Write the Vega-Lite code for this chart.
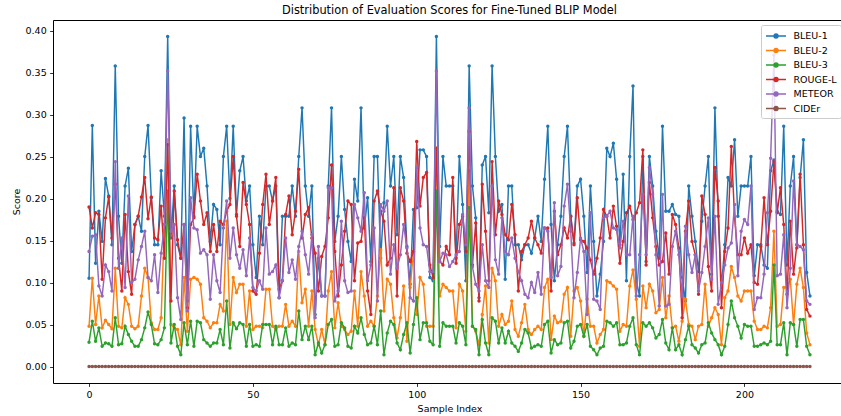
{
"$schema":"https://vega.github.io/schema/vega-lite/v6.json",
"width":793,"height":363,"autosize":"none",
"padding":{"left":53,"top":20,"right":0,"bottom":33},
"title":{"text":"Distribution of Evaluation Scores for Fine-Tuned BLIP Model","fontSize":11.4,"fontWeight":"normal","offset":4,"color":"#000000"},
"data":{"values":[
{"i":0,"BLEU-1":0.105,"BLEU-2":0.048,"BLEU-3":0.029,"ROUGE-L":0.190,"METEOR":0.137,"CIDEr":0},
{"i":1,"BLEU-1":0.287,"BLEU-2":0.105,"BLEU-3":0.054,"ROUGE-L":0.165,"METEOR":0.155,"CIDEr":0},
{"i":2,"BLEU-1":0.123,"BLEU-2":0.050,"BLEU-3":0.030,"ROUGE-L":0.183,"METEOR":0.157,"CIDEr":0},
{"i":3,"BLEU-1":0.185,"BLEU-2":0.084,"BLEU-3":0.046,"ROUGE-L":0.181,"METEOR":0.096,"CIDEr":0},
{"i":4,"BLEU-1":0.149,"BLEU-2":0.046,"BLEU-3":0.024,"ROUGE-L":0.104,"METEOR":0.084,"CIDEr":0},
{"i":5,"BLEU-1":0.224,"BLEU-2":0.055,"BLEU-3":0.028,"ROUGE-L":0.177,"METEOR":0.121,"CIDEr":0},
{"i":6,"BLEU-1":0.203,"BLEU-2":0.050,"BLEU-3":0.027,"ROUGE-L":0.202,"METEOR":0.113,"CIDEr":0},
{"i":7,"BLEU-1":0.145,"BLEU-2":0.045,"BLEU-3":0.024,"ROUGE-L":0.153,"METEOR":0.090,"CIDEr":0},
{"i":8,"BLEU-1":0.358,"BLEU-2":0.117,"BLEU-3":0.058,"ROUGE-L":0.217,"METEOR":0.244,"CIDEr":0},
{"i":9,"BLEU-1":0.179,"BLEU-2":0.048,"BLEU-3":0.026,"ROUGE-L":0.129,"METEOR":0.117,"CIDEr":0},
{"i":10,"BLEU-1":0.123,"BLEU-2":0.046,"BLEU-3":0.027,"ROUGE-L":0.090,"METEOR":0.153,"CIDEr":0},
{"i":11,"BLEU-1":0.215,"BLEU-2":0.082,"BLEU-3":0.048,"ROUGE-L":0.181,"METEOR":0.094,"CIDEr":0},
{"i":12,"BLEU-1":0.236,"BLEU-2":0.074,"BLEU-3":0.038,"ROUGE-L":0.113,"METEOR":0.203,"CIDEr":0},
{"i":13,"BLEU-1":0.137,"BLEU-2":0.048,"BLEU-3":0.030,"ROUGE-L":0.086,"METEOR":0.100,"CIDEr":0},
{"i":14,"BLEU-1":0.169,"BLEU-2":0.045,"BLEU-3":0.024,"ROUGE-L":0.169,"METEOR":0.104,"CIDEr":0},
{"i":15,"BLEU-1":0.179,"BLEU-2":0.048,"BLEU-3":0.024,"ROUGE-L":0.179,"METEOR":0.127,"CIDEr":0},
{"i":16,"BLEU-1":0.161,"BLEU-2":0.084,"BLEU-3":0.032,"ROUGE-L":0.202,"METEOR":0.143,"CIDEr":0},
{"i":17,"BLEU-1":0.250,"BLEU-2":0.117,"BLEU-3":0.046,"ROUGE-L":0.225,"METEOR":0.161,"CIDEr":0},
{"i":18,"BLEU-1":0.287,"BLEU-2":0.106,"BLEU-3":0.065,"ROUGE-L":0.176,"METEOR":0.106,"CIDEr":0},
{"i":19,"BLEU-1":0.201,"BLEU-2":0.052,"BLEU-3":0.050,"ROUGE-L":0.202,"METEOR":0.102,"CIDEr":0},
{"i":20,"BLEU-1":0.145,"BLEU-2":0.044,"BLEU-3":0.027,"ROUGE-L":0.153,"METEOR":0.133,"CIDEr":0},
{"i":21,"BLEU-1":0.145,"BLEU-2":0.044,"BLEU-3":0.026,"ROUGE-L":0.151,"METEOR":0.088,"CIDEr":0},
{"i":22,"BLEU-1":0.233,"BLEU-2":0.058,"BLEU-3":0.032,"ROUGE-L":0.191,"METEOR":0.135,"CIDEr":0},
{"i":23,"BLEU-1":0.179,"BLEU-2":0.169,"BLEU-3":0.046,"ROUGE-L":0.129,"METEOR":0.169,"CIDEr":0},
{"i":24,"BLEU-1":0.393,"BLEU-2":0.270,"BLEU-3":0.209,"ROUGE-L":0.264,"METEOR":0.352,"CIDEr":0},
{"i":25,"BLEU-1":0.153,"BLEU-2":0.050,"BLEU-3":0.028,"ROUGE-L":0.078,"METEOR":0.161,"CIDEr":0},
{"i":26,"BLEU-1":0.215,"BLEU-2":0.046,"BLEU-3":0.050,"ROUGE-L":0.209,"METEOR":0.169,"CIDEr":0},
{"i":27,"BLEU-1":0.145,"BLEU-2":0.044,"BLEU-3":0.024,"ROUGE-L":0.151,"METEOR":0.082,"CIDEr":0},
{"i":28,"BLEU-1":0.129,"BLEU-2":0.026,"BLEU-3":0.014,"ROUGE-L":0.129,"METEOR":0.056,"CIDEr":0},
{"i":29,"BLEU-1":0.296,"BLEU-2":0.106,"BLEU-3":0.052,"ROUGE-L":0.169,"METEOR":0.169,"CIDEr":0},
{"i":30,"BLEU-1":0.078,"BLEU-2":0.042,"BLEU-3":0.026,"ROUGE-L":0.070,"METEOR":0.066,"CIDEr":0},
{"i":31,"BLEU-1":0.286,"BLEU-2":0.104,"BLEU-3":0.054,"ROUGE-L":0.169,"METEOR":0.201,"CIDEr":0},
{"i":32,"BLEU-1":0.179,"BLEU-2":0.106,"BLEU-3":0.024,"ROUGE-L":0.177,"METEOR":0.165,"CIDEr":0},
{"i":33,"BLEU-1":0.286,"BLEU-2":0.104,"BLEU-3":0.054,"ROUGE-L":0.229,"METEOR":0.163,"CIDEr":0},
{"i":34,"BLEU-1":0.250,"BLEU-2":0.098,"BLEU-3":0.052,"ROUGE-L":0.197,"METEOR":0.135,"CIDEr":0},
{"i":35,"BLEU-1":0.260,"BLEU-2":0.058,"BLEU-3":0.032,"ROUGE-L":0.169,"METEOR":0.139,"CIDEr":0},
{"i":36,"BLEU-1":0.215,"BLEU-2":0.054,"BLEU-3":0.028,"ROUGE-L":0.183,"METEOR":0.133,"CIDEr":0},
{"i":37,"BLEU-1":0.149,"BLEU-2":0.046,"BLEU-3":0.024,"ROUGE-L":0.137,"METEOR":0.080,"CIDEr":0},
{"i":38,"BLEU-1":0.193,"BLEU-2":0.052,"BLEU-3":0.028,"ROUGE-L":0.169,"METEOR":0.133,"CIDEr":0},
{"i":39,"BLEU-1":0.187,"BLEU-2":0.052,"BLEU-3":0.028,"ROUGE-L":0.137,"METEOR":0.102,"CIDEr":0},
{"i":40,"BLEU-1":0.145,"BLEU-2":0.074,"BLEU-3":0.044,"ROUGE-L":0.173,"METEOR":0.088,"CIDEr":0},
{"i":41,"BLEU-1":0.250,"BLEU-2":0.066,"BLEU-3":0.026,"ROUGE-L":0.169,"METEOR":0.165,"CIDEr":0},
{"i":42,"BLEU-1":0.286,"BLEU-2":0.173,"BLEU-3":0.078,"ROUGE-L":0.185,"METEOR":0.197,"CIDEr":0},
{"i":43,"BLEU-1":0.200,"BLEU-2":0.050,"BLEU-3":0.022,"ROUGE-L":0.193,"METEOR":0.129,"CIDEr":0},
{"i":44,"BLEU-1":0.286,"BLEU-2":0.106,"BLEU-3":0.052,"ROUGE-L":0.250,"METEOR":0.165,"CIDEr":0},
{"i":45,"BLEU-1":0.181,"BLEU-2":0.088,"BLEU-3":0.045,"ROUGE-L":0.179,"METEOR":0.133,"CIDEr":0},
{"i":46,"BLEU-1":0.233,"BLEU-2":0.098,"BLEU-3":0.052,"ROUGE-L":0.143,"METEOR":0.117,"CIDEr":0},
{"i":47,"BLEU-1":0.250,"BLEU-2":0.098,"BLEU-3":0.050,"ROUGE-L":0.219,"METEOR":0.139,"CIDEr":0},
{"i":48,"BLEU-1":0.197,"BLEU-2":0.048,"BLEU-3":0.024,"ROUGE-L":0.193,"METEOR":0.108,"CIDEr":0},
{"i":49,"BLEU-1":0.215,"BLEU-2":0.090,"BLEU-3":0.050,"ROUGE-L":0.169,"METEOR":0.153,"CIDEr":0},
{"i":50,"BLEU-1":0.145,"BLEU-2":0.044,"BLEU-3":0.024,"ROUGE-L":0.090,"METEOR":0.094,"CIDEr":0},
{"i":51,"BLEU-1":0.106,"BLEU-2":0.048,"BLEU-3":0.026,"ROUGE-L":0.086,"METEOR":0.090,"CIDEr":0},
{"i":52,"BLEU-1":0.179,"BLEU-2":0.048,"BLEU-3":0.024,"ROUGE-L":0.135,"METEOR":0.102,"CIDEr":0},
{"i":53,"BLEU-1":0.145,"BLEU-2":0.046,"BLEU-3":0.050,"ROUGE-L":0.193,"METEOR":0.092,"CIDEr":0},
{"i":54,"BLEU-1":0.215,"BLEU-2":0.092,"BLEU-3":0.050,"ROUGE-L":0.229,"METEOR":0.165,"CIDEr":0},
{"i":55,"BLEU-1":0.215,"BLEU-2":0.092,"BLEU-3":0.050,"ROUGE-L":0.169,"METEOR":0.110,"CIDEr":0},
{"i":56,"BLEU-1":0.197,"BLEU-2":0.048,"BLEU-3":0.026,"ROUGE-L":0.197,"METEOR":0.113,"CIDEr":0},
{"i":57,"BLEU-1":0.215,"BLEU-2":0.044,"BLEU-3":0.048,"ROUGE-L":0.225,"METEOR":0.121,"CIDEr":0},
{"i":58,"BLEU-1":0.082,"BLEU-2":0.048,"BLEU-3":0.026,"ROUGE-L":0.092,"METEOR":0.082,"CIDEr":0},
{"i":59,"BLEU-1":0.179,"BLEU-2":0.048,"BLEU-3":0.026,"ROUGE-L":0.102,"METEOR":0.102,"CIDEr":0},
{"i":60,"BLEU-1":0.179,"BLEU-2":0.074,"BLEU-3":0.046,"ROUGE-L":0.181,"METEOR":0.153,"CIDEr":0},
{"i":61,"BLEU-1":0.179,"BLEU-2":0.048,"BLEU-3":0.024,"ROUGE-L":0.203,"METEOR":0.112,"CIDEr":0},
{"i":62,"BLEU-1":0.215,"BLEU-2":0.054,"BLEU-3":0.028,"ROUGE-L":0.157,"METEOR":0.127,"CIDEr":0},
{"i":63,"BLEU-1":0.179,"BLEU-2":0.048,"BLEU-3":0.026,"ROUGE-L":0.185,"METEOR":0.104,"CIDEr":0},
{"i":64,"BLEU-1":0.250,"BLEU-2":0.137,"BLEU-3":0.066,"ROUGE-L":0.235,"METEOR":0.143,"CIDEr":0},
{"i":65,"BLEU-1":0.308,"BLEU-2":0.076,"BLEU-3":0.032,"ROUGE-L":0.153,"METEOR":0.161,"CIDEr":0},
{"i":66,"BLEU-1":0.215,"BLEU-2":0.092,"BLEU-3":0.048,"ROUGE-L":0.181,"METEOR":0.133,"CIDEr":0},
{"i":67,"BLEU-1":0.179,"BLEU-2":0.048,"BLEU-3":0.032,"ROUGE-L":0.189,"METEOR":0.110,"CIDEr":0},
{"i":68,"BLEU-1":0.215,"BLEU-2":0.090,"BLEU-3":0.048,"ROUGE-L":0.153,"METEOR":0.157,"CIDEr":0},
{"i":69,"BLEU-1":0.062,"BLEU-2":0.044,"BLEU-3":0.014,"ROUGE-L":0.135,"METEOR":0.058,"CIDEr":0},
{"i":70,"BLEU-1":0.129,"BLEU-2":0.026,"BLEU-3":0.028,"ROUGE-L":0.090,"METEOR":0.143,"CIDEr":0},
{"i":71,"BLEU-1":0.084,"BLEU-2":0.044,"BLEU-3":0.016,"ROUGE-L":0.131,"METEOR":0.084,"CIDEr":0},
{"i":72,"BLEU-1":0.084,"BLEU-2":0.026,"BLEU-3":0.026,"ROUGE-L":0.143,"METEOR":0.084,"CIDEr":0},
{"i":73,"BLEU-1":0.215,"BLEU-2":0.090,"BLEU-3":0.050,"ROUGE-L":0.177,"METEOR":0.213,"CIDEr":0},
{"i":74,"BLEU-1":0.308,"BLEU-2":0.113,"BLEU-3":0.056,"ROUGE-L":0.240,"METEOR":0.213,"CIDEr":0},
{"i":75,"BLEU-1":0.149,"BLEU-2":0.046,"BLEU-3":0.024,"ROUGE-L":0.137,"METEOR":0.078,"CIDEr":0},
{"i":76,"BLEU-1":0.179,"BLEU-2":0.076,"BLEU-3":0.026,"ROUGE-L":0.084,"METEOR":0.090,"CIDEr":0},
{"i":77,"BLEU-1":0.250,"BLEU-2":0.048,"BLEU-3":0.052,"ROUGE-L":0.121,"METEOR":0.173,"CIDEr":0},
{"i":78,"BLEU-1":0.187,"BLEU-2":0.044,"BLEU-3":0.046,"ROUGE-L":0.161,"METEOR":0.102,"CIDEr":0},
{"i":79,"BLEU-1":0.149,"BLEU-2":0.038,"BLEU-3":0.024,"ROUGE-L":0.197,"METEOR":0.088,"CIDEr":0},
{"i":80,"BLEU-1":0.125,"BLEU-2":0.042,"BLEU-3":0.022,"ROUGE-L":0.193,"METEOR":0.090,"CIDEr":0},
{"i":81,"BLEU-1":0.223,"BLEU-2":0.090,"BLEU-3":0.048,"ROUGE-L":0.102,"METEOR":0.193,"CIDEr":0},
{"i":82,"BLEU-1":0.197,"BLEU-2":0.048,"BLEU-3":0.040,"ROUGE-L":0.147,"METEOR":0.177,"CIDEr":0},
{"i":83,"BLEU-1":0.308,"BLEU-2":0.113,"BLEU-3":0.058,"ROUGE-L":0.149,"METEOR":0.161,"CIDEr":0},
{"i":84,"BLEU-1":0.165,"BLEU-2":0.084,"BLEU-3":0.038,"ROUGE-L":0.177,"METEOR":0.207,"CIDEr":0},
{"i":85,"BLEU-1":0.201,"BLEU-2":0.048,"BLEU-3":0.026,"ROUGE-L":0.090,"METEOR":0.102,"CIDEr":0},
{"i":86,"BLEU-1":0.125,"BLEU-2":0.054,"BLEU-3":0.028,"ROUGE-L":0.062,"METEOR":0.121,"CIDEr":0},
{"i":87,"BLEU-1":0.250,"BLEU-2":0.048,"BLEU-3":0.048,"ROUGE-L":0.197,"METEOR":0.165,"CIDEr":0},
{"i":88,"BLEU-1":0.250,"BLEU-2":0.084,"BLEU-3":0.026,"ROUGE-L":0.209,"METEOR":0.078,"CIDEr":0},
{"i":89,"BLEU-1":0.129,"BLEU-2":0.139,"BLEU-3":0.066,"ROUGE-L":0.185,"METEOR":0.193,"CIDEr":0},
{"i":90,"BLEU-1":0.195,"BLEU-2":0.066,"BLEU-3":0.014,"ROUGE-L":0.173,"METEOR":0.185,"CIDEr":0},
{"i":91,"BLEU-1":0.286,"BLEU-2":0.104,"BLEU-3":0.040,"ROUGE-L":0.121,"METEOR":0.197,"CIDEr":0},
{"i":92,"BLEU-1":0.215,"BLEU-2":0.098,"BLEU-3":0.054,"ROUGE-L":0.129,"METEOR":0.110,"CIDEr":0},
{"i":93,"BLEU-1":0.250,"BLEU-2":0.058,"BLEU-3":0.050,"ROUGE-L":0.213,"METEOR":0.145,"CIDEr":0},
{"i":94,"BLEU-1":0.157,"BLEU-2":0.034,"BLEU-3":0.028,"ROUGE-L":0.084,"METEOR":0.117,"CIDEr":0},
{"i":95,"BLEU-1":0.250,"BLEU-2":0.058,"BLEU-3":0.020,"ROUGE-L":0.213,"METEOR":0.133,"CIDEr":0},
{"i":96,"BLEU-1":0.225,"BLEU-2":0.096,"BLEU-3":0.038,"ROUGE-L":0.197,"METEOR":0.169,"CIDEr":0},
{"i":97,"BLEU-1":0.143,"BLEU-2":0.030,"BLEU-3":0.052,"ROUGE-L":0.135,"METEOR":0.141,"CIDEr":0},
{"i":98,"BLEU-1":0.098,"BLEU-2":0.094,"BLEU-3":0.016,"ROUGE-L":0.125,"METEOR":0.082,"CIDEr":0},
{"i":99,"BLEU-1":0.187,"BLEU-2":0.137,"BLEU-3":0.050,"ROUGE-L":0.137,"METEOR":0.078,"CIDEr":0},
{"i":100,"BLEU-1":0.189,"BLEU-2":0.062,"BLEU-3":0.082,"ROUGE-L":0.268,"METEOR":0.237,"CIDEr":0},
{"i":101,"BLEU-1":0.258,"BLEU-2":0.106,"BLEU-3":0.032,"ROUGE-L":0.191,"METEOR":0.165,"CIDEr":0},
{"i":102,"BLEU-1":0.258,"BLEU-2":0.098,"BLEU-3":0.052,"ROUGE-L":0.225,"METEOR":0.145,"CIDEr":0},
{"i":103,"BLEU-1":0.250,"BLEU-2":0.048,"BLEU-3":0.052,"ROUGE-L":0.231,"METEOR":0.143,"CIDEr":0},
{"i":104,"BLEU-1":0.106,"BLEU-2":0.048,"BLEU-3":0.030,"ROUGE-L":0.121,"METEOR":0.113,"CIDEr":0},
{"i":105,"BLEU-1":0.102,"BLEU-2":0.048,"BLEU-3":0.026,"ROUGE-L":0.106,"METEOR":0.113,"CIDEr":0},
{"i":106,"BLEU-1":0.393,"BLEU-2":0.260,"BLEU-3":0.209,"ROUGE-L":0.260,"METEOR":0.352,"CIDEr":0},
{"i":107,"BLEU-1":0.143,"BLEU-2":0.084,"BLEU-3":0.024,"ROUGE-L":0.125,"METEOR":0.125,"CIDEr":0},
{"i":108,"BLEU-1":0.250,"BLEU-2":0.098,"BLEU-3":0.052,"ROUGE-L":0.121,"METEOR":0.135,"CIDEr":0},
{"i":109,"BLEU-1":0.215,"BLEU-2":0.094,"BLEU-3":0.048,"ROUGE-L":0.143,"METEOR":0.133,"CIDEr":0},
{"i":110,"BLEU-1":0.215,"BLEU-2":0.090,"BLEU-3":0.048,"ROUGE-L":0.133,"METEOR":0.119,"CIDEr":0},
{"i":111,"BLEU-1":0.215,"BLEU-2":0.090,"BLEU-3":0.048,"ROUGE-L":0.225,"METEOR":0.125,"CIDEr":0},
{"i":112,"BLEU-1":0.129,"BLEU-2":0.046,"BLEU-3":0.028,"ROUGE-L":0.123,"METEOR":0.133,"CIDEr":0},
{"i":113,"BLEU-1":0.250,"BLEU-2":0.098,"BLEU-3":0.052,"ROUGE-L":0.169,"METEOR":0.137,"CIDEr":0},
{"i":114,"BLEU-1":0.193,"BLEU-2":0.090,"BLEU-3":0.048,"ROUGE-L":0.179,"METEOR":0.181,"CIDEr":0},
{"i":115,"BLEU-1":0.102,"BLEU-2":0.042,"BLEU-3":0.026,"ROUGE-L":0.137,"METEOR":0.145,"CIDEr":0},
{"i":116,"BLEU-1":0.358,"BLEU-2":0.233,"BLEU-3":0.189,"ROUGE-L":0.280,"METEOR":0.308,"CIDEr":0},
{"i":117,"BLEU-1":0.215,"BLEU-2":0.048,"BLEU-3":0.048,"ROUGE-L":0.121,"METEOR":0.119,"CIDEr":0},
{"i":118,"BLEU-1":0.177,"BLEU-2":0.042,"BLEU-3":0.044,"ROUGE-L":0.171,"METEOR":0.098,"CIDEr":0},
{"i":119,"BLEU-1":0.082,"BLEU-2":0.026,"BLEU-3":0.014,"ROUGE-L":0.078,"METEOR":0.090,"CIDEr":0},
{"i":120,"BLEU-1":0.240,"BLEU-2":0.062,"BLEU-3":0.056,"ROUGE-L":0.217,"METEOR":0.145,"CIDEr":0},
{"i":121,"BLEU-1":0.250,"BLEU-2":0.096,"BLEU-3":0.028,"ROUGE-L":0.161,"METEOR":0.102,"CIDEr":0},
{"i":122,"BLEU-1":0.183,"BLEU-2":0.028,"BLEU-3":0.014,"ROUGE-L":0.102,"METEOR":0.094,"CIDEr":0},
{"i":123,"BLEU-1":0.358,"BLEU-2":0.117,"BLEU-3":0.058,"ROUGE-L":0.244,"METEOR":0.215,"CIDEr":0},
{"i":124,"BLEU-1":0.250,"BLEU-2":0.102,"BLEU-3":0.054,"ROUGE-L":0.157,"METEOR":0.127,"CIDEr":0},
{"i":125,"BLEU-1":0.185,"BLEU-2":0.048,"BLEU-3":0.028,"ROUGE-L":0.197,"METEOR":0.110,"CIDEr":0},
{"i":126,"BLEU-1":0.193,"BLEU-2":0.062,"BLEU-3":0.046,"ROUGE-L":0.181,"METEOR":0.177,"CIDEr":0},
{"i":127,"BLEU-1":0.104,"BLEU-2":0.050,"BLEU-3":0.028,"ROUGE-L":0.157,"METEOR":0.137,"CIDEr":0},
{"i":128,"BLEU-1":0.215,"BLEU-2":0.054,"BLEU-3":0.042,"ROUGE-L":0.151,"METEOR":0.133,"CIDEr":0},
{"i":129,"BLEU-1":0.215,"BLEU-2":0.078,"BLEU-3":0.028,"ROUGE-L":0.193,"METEOR":0.153,"CIDEr":0},
{"i":130,"BLEU-1":0.145,"BLEU-2":0.044,"BLEU-3":0.024,"ROUGE-L":0.157,"METEOR":0.129,"CIDEr":0},
{"i":131,"BLEU-1":0.145,"BLEU-2":0.036,"BLEU-3":0.018,"ROUGE-L":0.090,"METEOR":0.113,"CIDEr":0},
{"i":132,"BLEU-1":0.127,"BLEU-2":0.052,"BLEU-3":0.028,"ROUGE-L":0.137,"METEOR":0.102,"CIDEr":0},
{"i":133,"BLEU-1":0.145,"BLEU-2":0.074,"BLEU-3":0.044,"ROUGE-L":0.145,"METEOR":0.086,"CIDEr":0},
{"i":134,"BLEU-1":0.145,"BLEU-2":0.044,"BLEU-3":0.040,"ROUGE-L":0.153,"METEOR":0.082,"CIDEr":0},
{"i":135,"BLEU-1":0.135,"BLEU-2":0.038,"BLEU-3":0.022,"ROUGE-L":0.173,"METEOR":0.100,"CIDEr":0},
{"i":136,"BLEU-1":0.153,"BLEU-2":0.044,"BLEU-3":0.024,"ROUGE-L":0.153,"METEOR":0.088,"CIDEr":0},
{"i":137,"BLEU-1":0.179,"BLEU-2":0.048,"BLEU-3":0.026,"ROUGE-L":0.145,"METEOR":0.112,"CIDEr":0},
{"i":138,"BLEU-1":0.149,"BLEU-2":0.044,"BLEU-3":0.024,"ROUGE-L":0.135,"METEOR":0.086,"CIDEr":0},
{"i":139,"BLEU-1":0.223,"BLEU-2":0.094,"BLEU-3":0.050,"ROUGE-L":0.165,"METEOR":0.165,"CIDEr":0},
{"i":140,"BLEU-1":0.286,"BLEU-2":0.104,"BLEU-3":0.054,"ROUGE-L":0.165,"METEOR":0.161,"CIDEr":0},
{"i":141,"BLEU-1":0.169,"BLEU-2":0.032,"BLEU-3":0.016,"ROUGE-L":0.090,"METEOR":0.106,"CIDEr":0},
{"i":142,"BLEU-1":0.102,"BLEU-2":0.060,"BLEU-3":0.032,"ROUGE-L":0.185,"METEOR":0.195,"CIDEr":0},
{"i":143,"BLEU-1":0.145,"BLEU-2":0.052,"BLEU-3":0.026,"ROUGE-L":0.133,"METEOR":0.108,"CIDEr":0},
{"i":144,"BLEU-1":0.179,"BLEU-2":0.054,"BLEU-3":0.028,"ROUGE-L":0.145,"METEOR":0.119,"CIDEr":0},
{"i":145,"BLEU-1":0.250,"BLEU-2":0.086,"BLEU-3":0.052,"ROUGE-L":0.165,"METEOR":0.191,"CIDEr":0},
{"i":146,"BLEU-1":0.286,"BLEU-2":0.094,"BLEU-3":0.054,"ROUGE-L":0.153,"METEOR":0.217,"CIDEr":0},
{"i":147,"BLEU-1":0.179,"BLEU-2":0.036,"BLEU-3":0.022,"ROUGE-L":0.179,"METEOR":0.161,"CIDEr":0},
{"i":148,"BLEU-1":0.147,"BLEU-2":0.090,"BLEU-3":0.030,"ROUGE-L":0.145,"METEOR":0.082,"CIDEr":0},
{"i":149,"BLEU-1":0.215,"BLEU-2":0.094,"BLEU-3":0.048,"ROUGE-L":0.201,"METEOR":0.112,"CIDEr":0},
{"i":150,"BLEU-1":0.223,"BLEU-2":0.078,"BLEU-3":0.050,"ROUGE-L":0.151,"METEOR":0.153,"CIDEr":0},
{"i":151,"BLEU-1":0.179,"BLEU-2":0.036,"BLEU-3":0.036,"ROUGE-L":0.149,"METEOR":0.137,"CIDEr":0},
{"i":152,"BLEU-1":0.112,"BLEU-2":0.080,"BLEU-3":0.050,"ROUGE-L":0.141,"METEOR":0.062,"CIDEr":0},
{"i":153,"BLEU-1":0.215,"BLEU-2":0.048,"BLEU-3":0.024,"ROUGE-L":0.127,"METEOR":0.183,"CIDEr":0},
{"i":154,"BLEU-1":0.149,"BLEU-2":0.048,"BLEU-3":0.020,"ROUGE-L":0.110,"METEOR":0.080,"CIDEr":0},
{"i":155,"BLEU-1":0.084,"BLEU-2":0.028,"BLEU-3":0.014,"ROUGE-L":0.129,"METEOR":0.078,"CIDEr":0},
{"i":156,"BLEU-1":0.110,"BLEU-2":0.038,"BLEU-3":0.022,"ROUGE-L":0.153,"METEOR":0.068,"CIDEr":0},
{"i":157,"BLEU-1":0.149,"BLEU-2":0.044,"BLEU-3":0.024,"ROUGE-L":0.187,"METEOR":0.177,"CIDEr":0},
{"i":158,"BLEU-1":0.260,"BLEU-2":0.102,"BLEU-3":0.054,"ROUGE-L":0.179,"METEOR":0.179,"CIDEr":0},
{"i":159,"BLEU-1":0.250,"BLEU-2":0.100,"BLEU-3":0.052,"ROUGE-L":0.153,"METEOR":0.185,"CIDEr":0},
{"i":160,"BLEU-1":0.266,"BLEU-2":0.096,"BLEU-3":0.048,"ROUGE-L":0.191,"METEOR":0.165,"CIDEr":0},
{"i":161,"BLEU-1":0.223,"BLEU-2":0.092,"BLEU-3":0.052,"ROUGE-L":0.167,"METEOR":0.163,"CIDEr":0},
{"i":162,"BLEU-1":0.145,"BLEU-2":0.042,"BLEU-3":0.026,"ROUGE-L":0.123,"METEOR":0.141,"CIDEr":0},
{"i":163,"BLEU-1":0.229,"BLEU-2":0.050,"BLEU-3":0.026,"ROUGE-L":0.149,"METEOR":0.173,"CIDEr":0},
{"i":164,"BLEU-1":0.102,"BLEU-2":0.048,"BLEU-3":0.028,"ROUGE-L":0.183,"METEOR":0.133,"CIDEr":0},
{"i":165,"BLEU-1":0.250,"BLEU-2":0.096,"BLEU-3":0.048,"ROUGE-L":0.191,"METEOR":0.133,"CIDEr":0},
{"i":166,"BLEU-1":0.334,"BLEU-2":0.115,"BLEU-3":0.058,"ROUGE-L":0.175,"METEOR":0.179,"CIDEr":0},
{"i":167,"BLEU-1":0.102,"BLEU-2":0.080,"BLEU-3":0.026,"ROUGE-L":0.183,"METEOR":0.084,"CIDEr":0},
{"i":168,"BLEU-1":0.084,"BLEU-2":0.024,"BLEU-3":0.014,"ROUGE-L":0.195,"METEOR":0.133,"CIDEr":0},
{"i":169,"BLEU-1":0.250,"BLEU-2":0.096,"BLEU-3":0.052,"ROUGE-L":0.258,"METEOR":0.205,"CIDEr":0},
{"i":170,"BLEU-1":0.125,"BLEU-2":0.070,"BLEU-3":0.048,"ROUGE-L":0.121,"METEOR":0.133,"CIDEr":0},
{"i":171,"BLEU-1":0.250,"BLEU-2":0.098,"BLEU-3":0.052,"ROUGE-L":0.219,"METEOR":0.237,"CIDEr":0},
{"i":172,"BLEU-1":0.215,"BLEU-2":0.090,"BLEU-3":0.046,"ROUGE-L":0.177,"METEOR":0.205,"CIDEr":0},
{"i":173,"BLEU-1":0.161,"BLEU-2":0.064,"BLEU-3":0.034,"ROUGE-L":0.143,"METEOR":0.133,"CIDEr":0},
{"i":174,"BLEU-1":0.129,"BLEU-2":0.068,"BLEU-3":0.038,"ROUGE-L":0.121,"METEOR":0.072,"CIDEr":0},
{"i":175,"BLEU-1":0.286,"BLEU-2":0.106,"BLEU-3":0.056,"ROUGE-L":0.125,"METEOR":0.205,"CIDEr":0},
{"i":176,"BLEU-1":0.185,"BLEU-2":0.058,"BLEU-3":0.028,"ROUGE-L":0.159,"METEOR":0.072,"CIDEr":0},
{"i":177,"BLEU-1":0.185,"BLEU-2":0.084,"BLEU-3":0.020,"ROUGE-L":0.110,"METEOR":0.074,"CIDEr":0},
{"i":178,"BLEU-1":0.193,"BLEU-2":0.046,"BLEU-3":0.046,"ROUGE-L":0.181,"METEOR":0.143,"CIDEr":0},
{"i":179,"BLEU-1":0.181,"BLEU-2":0.048,"BLEU-3":0.020,"ROUGE-L":0.169,"METEOR":0.161,"CIDEr":0},
{"i":180,"BLEU-1":0.179,"BLEU-2":0.030,"BLEU-3":0.026,"ROUGE-L":0.141,"METEOR":0.133,"CIDEr":0},
{"i":181,"BLEU-1":0.106,"BLEU-2":0.054,"BLEU-3":0.014,"ROUGE-L":0.058,"METEOR":0.084,"CIDEr":0},
{"i":182,"BLEU-1":0.078,"BLEU-2":0.080,"BLEU-3":0.032,"ROUGE-L":0.161,"METEOR":0.167,"CIDEr":0},
{"i":183,"BLEU-1":0.215,"BLEU-2":0.050,"BLEU-3":0.048,"ROUGE-L":0.197,"METEOR":0.133,"CIDEr":0},
{"i":184,"BLEU-1":0.179,"BLEU-2":0.048,"BLEU-3":0.026,"ROUGE-L":0.149,"METEOR":0.112,"CIDEr":0},
{"i":185,"BLEU-1":0.149,"BLEU-2":0.032,"BLEU-3":0.022,"ROUGE-L":0.133,"METEOR":0.133,"CIDEr":0},
{"i":186,"BLEU-1":0.113,"BLEU-2":0.048,"BLEU-3":0.016,"ROUGE-L":0.086,"METEOR":0.090,"CIDEr":0},
{"i":187,"BLEU-1":0.173,"BLEU-2":0.050,"BLEU-3":0.026,"ROUGE-L":0.203,"METEOR":0.112,"CIDEr":0},
{"i":188,"BLEU-1":0.215,"BLEU-2":0.098,"BLEU-3":0.028,"ROUGE-L":0.181,"METEOR":0.143,"CIDEr":0},
{"i":189,"BLEU-1":0.250,"BLEU-2":0.048,"BLEU-3":0.052,"ROUGE-L":0.119,"METEOR":0.177,"CIDEr":0},
{"i":190,"BLEU-1":0.110,"BLEU-2":0.058,"BLEU-3":0.040,"ROUGE-L":0.090,"METEOR":0.104,"CIDEr":0},
{"i":191,"BLEU-1":0.308,"BLEU-2":0.070,"BLEU-3":0.032,"ROUGE-L":0.237,"METEOR":0.179,"CIDEr":0},
{"i":192,"BLEU-1":0.179,"BLEU-2":0.062,"BLEU-3":0.026,"ROUGE-L":0.197,"METEOR":0.074,"CIDEr":0},
{"i":193,"BLEU-1":0.094,"BLEU-2":0.026,"BLEU-3":0.014,"ROUGE-L":0.070,"METEOR":0.100,"CIDEr":0},
{"i":194,"BLEU-1":0.145,"BLEU-2":0.082,"BLEU-3":0.024,"ROUGE-L":0.137,"METEOR":0.121,"CIDEr":0},
{"i":195,"BLEU-1":0.225,"BLEU-2":0.090,"BLEU-3":0.050,"ROUGE-L":0.165,"METEOR":0.141,"CIDEr":0},
{"i":196,"BLEU-1":0.215,"BLEU-2":0.119,"BLEU-3":0.078,"ROUGE-L":0.262,"METEOR":0.147,"CIDEr":0},
{"i":197,"BLEU-1":0.270,"BLEU-2":0.106,"BLEU-3":0.058,"ROUGE-L":0.177,"METEOR":0.193,"CIDEr":0},
{"i":198,"BLEU-1":0.179,"BLEU-2":0.084,"BLEU-3":0.048,"ROUGE-L":0.133,"METEOR":0.108,"CIDEr":0},
{"i":199,"BLEU-1":0.215,"BLEU-2":0.078,"BLEU-3":0.034,"ROUGE-L":0.133,"METEOR":0.161,"CIDEr":0},
{"i":200,"BLEU-1":0.215,"BLEU-2":0.090,"BLEU-3":0.050,"ROUGE-L":0.153,"METEOR":0.175,"CIDEr":0},
{"i":201,"BLEU-1":0.215,"BLEU-2":0.090,"BLEU-3":0.048,"ROUGE-L":0.135,"METEOR":0.169,"CIDEr":0},
{"i":202,"BLEU-1":0.250,"BLEU-2":0.090,"BLEU-3":0.048,"ROUGE-L":0.145,"METEOR":0.215,"CIDEr":0},
{"i":203,"BLEU-1":0.108,"BLEU-2":0.054,"BLEU-3":0.024,"ROUGE-L":0.100,"METEOR":0.068,"CIDEr":0},
{"i":204,"BLEU-1":0.145,"BLEU-2":0.044,"BLEU-3":0.024,"ROUGE-L":0.098,"METEOR":0.082,"CIDEr":0},
{"i":205,"BLEU-1":0.145,"BLEU-2":0.044,"BLEU-3":0.026,"ROUGE-L":0.143,"METEOR":0.082,"CIDEr":0},
{"i":206,"BLEU-1":0.121,"BLEU-2":0.048,"BLEU-3":0.028,"ROUGE-L":0.201,"METEOR":0.110,"CIDEr":0},
{"i":207,"BLEU-1":0.117,"BLEU-2":0.046,"BLEU-3":0.026,"ROUGE-L":0.145,"METEOR":0.183,"CIDEr":0},
{"i":208,"BLEU-1":0.233,"BLEU-2":0.070,"BLEU-3":0.030,"ROUGE-L":0.185,"METEOR":0.248,"CIDEr":0},
{"i":209,"BLEU-1":0.246,"BLEU-2":0.161,"BLEU-3":0.121,"ROUGE-L":0.244,"METEOR":0.371,"CIDEr":0},
{"i":210,"BLEU-1":0.185,"BLEU-2":0.048,"BLEU-3":0.026,"ROUGE-L":0.183,"METEOR":0.108,"CIDEr":0},
{"i":211,"BLEU-1":0.181,"BLEU-2":0.050,"BLEU-3":0.026,"ROUGE-L":0.213,"METEOR":0.110,"CIDEr":0},
{"i":212,"BLEU-1":0.286,"BLEU-2":0.094,"BLEU-3":0.052,"ROUGE-L":0.169,"METEOR":0.157,"CIDEr":0},
{"i":213,"BLEU-1":0.121,"BLEU-2":0.094,"BLEU-3":0.014,"ROUGE-L":0.086,"METEOR":0.070,"CIDEr":0},
{"i":214,"BLEU-1":0.215,"BLEU-2":0.104,"BLEU-3":0.052,"ROUGE-L":0.173,"METEOR":0.117,"CIDEr":0},
{"i":215,"BLEU-1":0.250,"BLEU-2":0.050,"BLEU-3":0.050,"ROUGE-L":0.110,"METEOR":0.221,"CIDEr":0},
{"i":216,"BLEU-1":0.141,"BLEU-2":0.098,"BLEU-3":0.024,"ROUGE-L":0.145,"METEOR":0.145,"CIDEr":0},
{"i":217,"BLEU-1":0.225,"BLEU-2":0.117,"BLEU-3":0.056,"ROUGE-L":0.229,"METEOR":0.143,"CIDEr":0},
{"i":218,"BLEU-1":0.270,"BLEU-2":0.094,"BLEU-3":0.056,"ROUGE-L":0.145,"METEOR":0.139,"CIDEr":0},
{"i":219,"BLEU-1":0.112,"BLEU-2":0.040,"BLEU-3":0.024,"ROUGE-L":0.068,"METEOR":0.078,"CIDEr":0},
{"i":220,"BLEU-1":0.084,"BLEU-2":0.026,"BLEU-3":0.014,"ROUGE-L":0.060,"METEOR":0.074,"CIDEr":0}
]},
"transform":[{"fold":["BLEU-1","BLEU-2","BLEU-3","ROUGE-L","METEOR","CIDEr"],"as":["series","score"]}],
"encoding":{
"x":{"field":"i","type":"quantitative","scale":{"domain":[-11,231],"nice":false,"zero":false},"axis":{"values":[0,50,100,150,200],"title":"Sample Index"}},
"y":{"field":"score","type":"quantitative","scale":{"domain":[-0.01965,0.41265],"nice":false,"zero":false},"axis":{"values":[0,0.05,0.1,0.15,0.2,0.25,0.3,0.35,0.4],"format":".2f","title":"Score"}},
"color":{"field":"series","type":"nominal","scale":{"domain":["BLEU-1","BLEU-2","BLEU-3","ROUGE-L","METEOR","CIDEr"],"range":["#1f77b4","#ff7f0e","#2ca02c","#d62728","#9467bd","#8c564b"]},"legend":{"title":null}}
},
"layer":[
{"transform":[{"filter":{"field":"series","equal":"BLEU-1"}}],"mark":{"type":"line","strokeWidth":1.45,"point":{"filled":true,"size":12}}},
{"transform":[{"filter":{"field":"series","equal":"BLEU-2"}}],"mark":{"type":"line","strokeWidth":1.45,"point":{"filled":true,"size":12}}},
{"transform":[{"filter":{"field":"series","equal":"BLEU-3"}}],"mark":{"type":"line","strokeWidth":1.45,"point":{"filled":true,"size":12}}},
{"transform":[{"filter":{"field":"series","equal":"ROUGE-L"}}],"mark":{"type":"line","strokeWidth":1.45,"point":{"filled":true,"size":12}}},
{"transform":[{"filter":{"field":"series","equal":"METEOR"}}],"mark":{"type":"line","strokeWidth":1.45,"point":{"filled":true,"size":12}}},
{"transform":[{"filter":{"field":"series","equal":"CIDEr"}}],"mark":{"type":"line","strokeWidth":1.45,"point":{"filled":true,"size":12}}}
],
"config":{
"font":"DejaVu Sans",
"view":{"stroke":"#000000","strokeWidth":1},
"axis":{"grid":false,"domain":false,"tickColor":"#000000","tickSize":3.4,"tickWidth":0.8,"labelColor":"#000000","labelFontSize":9.5,"titleFontSize":9.5,"titleFontWeight":"normal","titleColor":"#000000","labelPadding":3.4,"titlePadding":4},
"legend":{"orient":"top-right","offset":5,"symbolType":"M-1.667,0H1.667M-0.333,0a0.333,0.333 0 1,0 0.667,0a0.333,0.333 0 1,0 -0.667,0","symbolSize":144,"symbolStrokeWidth":1.45,"symbolOffset":4,"labelFontSize":9.5,"labelOffset":10.5,"rowPadding":2.5,"padding":4,"fillColor":"rgba(255,255,255,0.8)","strokeColor":"#cccccc","cornerRadius":2,"labelColor":"#000000"}
}
}
